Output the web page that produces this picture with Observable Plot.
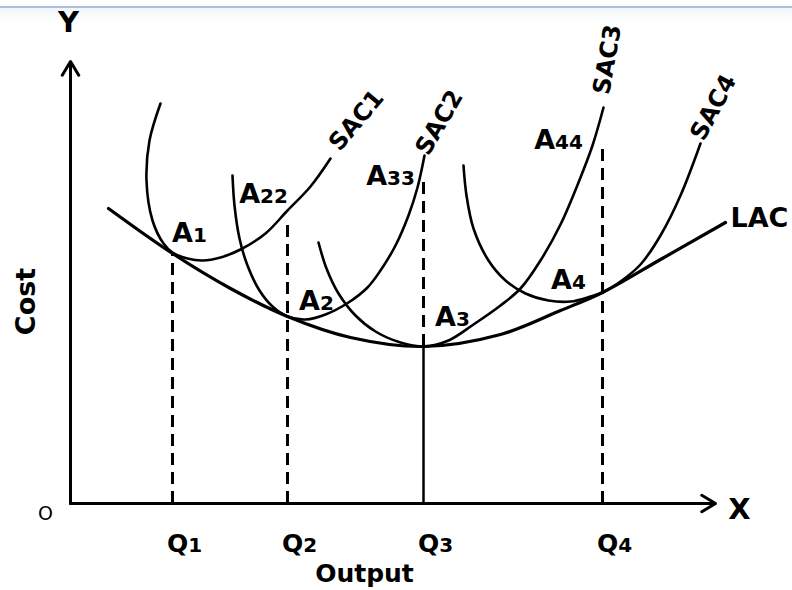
<!DOCTYPE html>
<html>
<head>
<meta charset="utf-8">
<script src="https://cdn.jsdelivr.net/npm/d3@7"></script>
<script src="https://cdn.jsdelivr.net/npm/@observablehq/plot@0.6"></script>
<style>
  html, body { margin: 0; padding: 0; background: #fff; }
  #wrap { position: relative; width: 792px; height: 590px; overflow: hidden; }
  #topline { position: absolute; left: 0; top: 6px; width: 792px; height: 2px; background: #a9c0dc; }
  #topfade { position: absolute; left: 0; top: 8px; width: 792px; height: 14px; background: linear-gradient(#f1f6fc, #ffffff); }
  svg { font-family: "DejaVu Sans", Verdana, sans-serif; }
</style>
</head>
<body>
<div id="wrap"><div id="topfade"></div><div id="topline"></div></div>
<script>
// Output (x) and Cost (y) in chart units
const lac  = [[3.8,29.5],[10.2,25.0],[16.0,21.5],[21.7,18.7],[28.0,16.6],[35.3,15.7],[43.0,16.9],[49.0,19.3],[53.2,21.1],[59.0,24.4],[65.5,28.1]];
const sac1 = [[9.0,40.0],[7.9,36.3],[7.6,32.3],[8.2,28.3],[9.3,26.0],[10.2,25.1],[11.7,24.5],[13.2,24.3],[15.0,24.6],[17.0,25.4],[19.5,27.0],[21.7,29.3],[24.0,31.7],[26.0,34.5]];
const sac2 = [[16.2,32.8],[16.4,29.8],[16.9,26.5],[17.7,23.8],[18.9,21.3],[20.2,19.7],[21.7,18.7],[23.5,18.4],[25.5,18.9],[27.8,20.1],[29.7,21.6],[31.0,23.3],[32.5,25.8],[33.8,28.8],[34.7,31.6],[35.4,34.8]];
const sac3 = [[24.8,26.1],[25.6,23.5],[26.8,21.0],[28.5,18.8],[30.5,17.2],[33.0,16.1],[35.3,15.7],[37.8,16.3],[40.3,17.9],[43.0,19.8],[45.0,21.5],[47.0,24.3],[49.0,27.9],[50.8,32.1],[52.2,35.8],[53.3,39.6]];
const sac4 = [[39.3,33.8],[39.6,30.8],[40.3,27.5],[41.8,24.3],[43.5,22.3],[45.5,21.0],[47.8,20.3],[50.0,20.2],[52.0,20.7],[53.2,21.1],[55.0,22.2],[57.0,23.9],[59.0,26.8],[61.0,30.8],[63.0,36.0]];

const qLabels = ["Q1","Q2","Q3","Q4"];
const qX      = [10.2, 21.7, 35.3, 53.2];
const qTop    = [25.0, 27.8, 32.3, 35.6];
const qDashFrom = [0, 0, 15.7, 0];

const pointLabels = ["A1","A22","A2","A33","A3","A44","A4"];
const pointLabelX = [11.9, 19.3, 24.6, 32.0, 38.2, 48.8, 49.8];
const pointLabelY = [27.0, 30.9, 20.2, 32.7, 18.6, 36.3, 22.3];

const curveNames = ["SAC1","SAC2","SAC3","SAC4"];
const curveNameX = [28.6, 36.9, 53.7, 64.3];
const curveNameY = [38.3, 38.1, 44.4, 39.6];
const curveNameRot = [-50, -60, -80, -62];

const xMax = 64.5, yMax = 44.2;

const qTable = qLabels.map((q, i) => ({q, x: qX[i], top: qTop[i], from: qDashFrom[i]}));
const ptTable = pointLabels.map((t, i) => ({t, x: pointLabelX[i], y: pointLabelY[i]}));
const xy = {x: d => d[0], y: d => d[1]};

const marks = [
  Plot.ruleX(qTable, {x: "x", y1: "from", y2: "top", strokeWidth: 3, strokeDasharray: "12,7"}),
  Plot.ruleX(qTable.filter(d => d.from > 0), {x: "x", y1: 0, y2: "from", strokeWidth: 2.5}),
  Plot.arrow([{x1: 0, y1: 0, x2: 0, y2: yMax}, {x1: 0, y1: 0, x2: xMax, y2: 0}],
    {x1: "x1", y1: "y1", x2: "x2", y2: "y2", strokeWidth: 3, headLength: 8, headAngle: 62}),
  Plot.line(lac,  {...xy, curve: "catmull-rom", strokeWidth: 3.2}),
  Plot.line(sac1, {...xy, curve: "catmull-rom", strokeWidth: 2.6}),
  Plot.line(sac2, {...xy, curve: "catmull-rom", strokeWidth: 2.6}),
  Plot.line(sac3, {...xy, curve: "catmull-rom", strokeWidth: 2.6}),
  Plot.line(sac4, {...xy, curve: "catmull-rom", strokeWidth: 2.6}),
  Plot.text(ptTable, {x: "x", y: "y", text: "t", fontSize: 27, fontWeight: "bold", className: "alabel"}),
  Plot.text(qTable, {x: d => d.x + 1.2, y: -4.05, text: "q", fontSize: 25, fontWeight: "bold", className: "qlabel"}),
  ...curveNames.map((n, i) => Plot.text([n], {x: curveNameX[i], y: curveNameY[i], text: d => d, rotate: curveNameRot[i], fontSize: 24, fontWeight: "bold"})),
  Plot.text(["LAC"], {x: 66.0, y: 28.5, text: d => d, textAnchor: "start", fontSize: 27, fontWeight: "bold"}),
  Plot.text(["Y"], {x: -0.2, y: 48.1, text: d => d, fontSize: 29, fontWeight: "bold"}),
  Plot.text(["X"], {x: 66.9, y: -0.6, text: d => d, fontSize: 29, fontWeight: "bold"}),
  Plot.text(["O"], {x: -2.5, y: -1.0, text: d => d, fontSize: 19}),
  Plot.text(["Cost"], {x: -4.4, y: 20.2, text: d => d, rotate: -90, fontSize: 27, fontWeight: "bold"}),
  Plot.text(["Output"], {x: 29.4, y: -7.05, text: d => d, fontSize: 25, fontWeight: "bold"})
];

const chart = Plot.plot({
  width: 792,
  height: 590,
  marginLeft: 70,
  marginRight: 82,
  marginTop: 63,
  marginBottom: 87,
  x: {domain: [0, 64], range: [70, 710], axis: null},
  y: {domain: [0, 44], range: [503, 63], axis: null},
  style: {background: "transparent", fontFamily: "DejaVu Sans, Verdana, sans-serif", overflow: "visible"},
  marks
});
chart.style.position = "absolute";
chart.style.left = "0";
chart.style.top = "0";

// smaller digits after the letters, as in the reference
chart.querySelectorAll(".alabel text, .qlabel text").forEach(t => {
  const s = t.textContent;
  const m = s.match(/^([A-Z]+)(\d+)$/);
  if (!m) return;
  t.textContent = "";
  const a = document.createElementNS("http://www.w3.org/2000/svg", "tspan");
  a.textContent = m[1];
  const b = document.createElementNS("http://www.w3.org/2000/svg", "tspan");
  b.textContent = m[2];
  b.setAttribute("font-size", "20");
  t.appendChild(a); t.appendChild(b);
});
document.getElementById("wrap").appendChild(chart);
</script>
</body>
</html>
